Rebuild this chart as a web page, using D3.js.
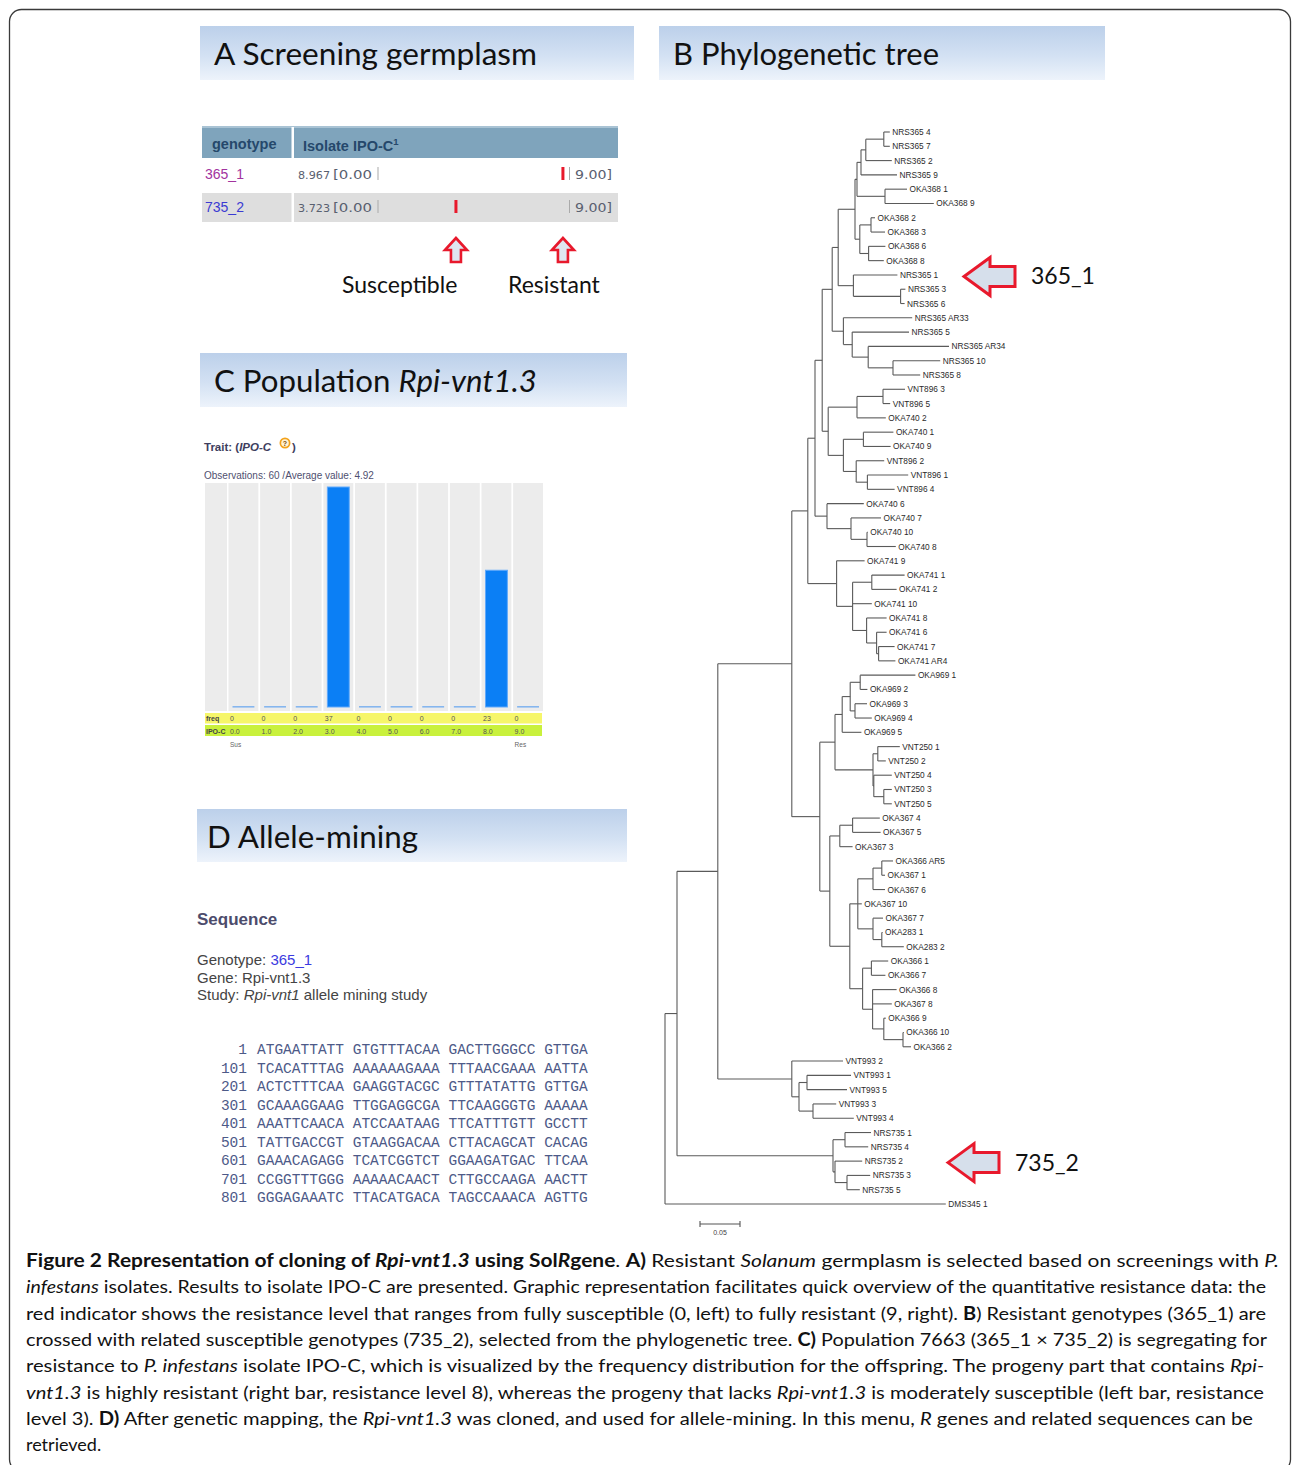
<!DOCTYPE html>
<html>
<head>
<meta charset="utf-8">
<script src="https://cdn.jsdelivr.net/npm/d3@7.9.0/dist/d3.min.js"></script>
<style>
  body { margin: 0; background: #fff; }
  svg { display: block; }
</style>
</head>
<body>
<svg id="fig" width="1292" height="1465"></svg>
<script>
// ---- panel A: screening ----
const genotypes = ['365_1', '735_2'];
const resistance = [8.967, 3.723];

// ---- panel C: population frequency ----
const ipoLevels = ['0.0', '1.0', '2.0', '3.0', '4.0', '5.0', '6.0', '7.0', '8.0', '9.0'];
const freq = [0, 0, 0, 37, 0, 0, 0, 0, 23, 0];
const observations = 60;
const averageValue = 4.92;

// ---- panel D: allele mining ----
const seqStarts = [1, 101, 201, 301, 401, 501, 601, 701, 801];
const seqRows = [
  'ATGAATTATT GTGTTTACAA GACTTGGGCC GTTGA',
  'TCACATTTAG AAAAAAGAAA TTTAACGAAA AATTA',
  'ACTCTTTCAA GAAGGTACGC GTTTATATTG GTTGA',
  'GCAAAGGAAG TTGGAGGCGA TTCAAGGGTG AAAAA',
  'AAATTCAACA ATCCAATAAG TTCATTTGTT GCCTT',
  'TATTGACCGT GTAAGGACAA CTTACAGCAT CACAG',
  'GAAACAGAGG TCATCGGTCT GGAAGATGAC TTCAA',
  'CCGGTTTGGG AAAAACAACT CTTGCCAAGA AACTT',
  'GGGAGAAATC TTACATGACA TAGCCAAACA AGTTG'
];

// ---- panel B: phylogenetic tree (newick, branch lengths) ----
const treeNewick = `(
(((((((((((((NRS365 4:0.0075,NRS365 7:0.0075):0.0225,NRS365 2:0.0325):0.006,NRS365 9:0.045):0.005,
(OKA368 1:0.0275,OKA368 9:0.061):0.035):0.0025,
((OKA368 2:0.005,OKA368 3:0.0175):0.014,(OKA368 6:0.021,OKA368 8:0.019):0.011):0.006):0.021,
(NRS365 1:0.055,(NRS365 3:0.006,NRS365 6:0.005):0.059):0.019):0.0075,
(NRS365 AR33:0.086,(NRS365 5:0.071,(NRS365 AR34:0.101,(NRS365 10:0.059,NRS365 8:0.034):0.031):0.02):0.011):0.014):0.0125,
(((VNT896 3:0.0275,VNT896 5:0.009):0.0325,OKA740 2:0.036):0.036,
((OKA740 1:0.0375,OKA740 9:0.034):0.025,(VNT896 2:0.035,(VNT896 1:0.051,VNT896 4:0.034):0.014):0.016):0.019):0.0075):0.009,
(OKA740 6:0.046,(OKA740 7:0.0375,(OKA740 10:0.001,OKA740 8:0.036):0.02):0.03):0.015):0.009,
(OKA741 9:0.035,((OKA741 1:0.041,OKA741 2:0.031):0.024,OKA741 10:0.024,
(OKA741 8:0.025,(OKA741 6:0.0125,(OKA741 7:0.02,OKA741 AR4:0.021):0.0025):0.0125):0.0175):0.02):0.036):0.02,
(((((OKA969 1:0.069,OKA969 2:0.009):0.0125,(OKA969 3:0.015,OKA969 4:0.021):0.006):0.01,OKA969 5:0.024):0.009,
((VNT250 1:0.0275,VNT250 2:0.01):0.006,(VNT250 4:0.0225,(VNT250 3:0.01,VNT250 5:0.01):0.0125):0.001):0.0475):0.019,
(((OKA367 4:0.034,OKA367 5:0.035):0.016,OKA367 3:0.016):0.0125,
((((OKA366 AR5:0.014,OKA367 1:0.004):0.011,OKA367 6:0.015):0.019,OKA367 10:0.005,
(OKA367 7:0.0125,(OKA283 1:0.001,OKA283 2:0.0275):0.011):0.019):0.01,
((OKA366 1:0.021,OKA366 7:0.0175):0.011,(OKA366 8:0.03,OKA367 8:0.024,
(OKA366 9:0.0025,(OKA366 10:0.001,OKA366 2:0.01):0.024):0.014):0.0125):0.016):0.025):0.0125):0.035):0.0925,
(VNT993 2:0.064,((VNT993 1:0.055,VNT993 5:0.05):0.01,(VNT993 3:0.029,VNT993 4:0.051):0.0175):0.009):0.0925):0.051,
((NRS735 1:0.0325,NRS735 4:0.029):0.015,(NRS735 2:0.034,(NRS735 3:0.029,NRS735 5:0.016):0.015):0.0025):0.195):0.015,
DMS345 1:0.351);`;
const markedLeaves = ['NRS365 1', 'NRS735 2'];
const markedLabels = ['365_1', '735_2'];
const scaleBarValue = 0.05;

// ---- caption (one array per printed line: [text, style]) ----
const captionLines = [
  [['Figure 2 Representation of cloning of ', 'b'], ['Rpi-vnt1.3', 'bi'], [' using Sol', 'b'], ['R', 'bi'], ['gene', 'b'], ['. ', ''], ['A)', 'b'], [' Resistant ', ''], ['Solanum', 'i'], [' germplasm is selected based on screenings with ', ''], ['P.', 'i']],
  [['infestans', 'i'], [' isolates. Results to isolate IPO-C are presented. Graphic representation facilitates quick overview of the quantitative resistance data: the', '']],
  [['red indicator shows the resistance level that ranges from fully susceptible (0, left) to fully resistant (9, right). ', ''], ['B', 'b'], [') Resistant genotypes (365_1) are', '']],
  [['crossed with related susceptible genotypes (735_2), selected from the phylogenetic tree. ', ''], ['C)', 'b'], [' Population 7663 (365_1 \u00d7 735_2) is segregating for', '']],
  [['resistance to ', ''], ['P. infestans', 'i'], [' isolate IPO-C, which is visualized by the frequency distribution for the offspring. The progeny part that contains ', ''], ['Rpi-', 'i']],
  [['vnt1.3', 'i'], [' is highly resistant (right bar, resistance level 8), whereas the progeny that lacks ', ''], ['Rpi-vnt1.3', 'i'], [' is moderately susceptible (left bar, resistance', '']],
  [['level 3). ', ''], ['D)', 'b'], [' After genetic mapping, the ', ''], ['Rpi-vnt1.3', 'i'], [' was cloned, and used for allele-mining. In this menu, ', ''], ['R', 'i'], [' genes and related sequences can be', '']],
  [['retrieved.', '']]
];
const captionWidths = [1253, 1240, 1240, 1241, 1238, 1238, 1227, 0];

const svg = d3.select('#fig');
const calibri = 'Lato, "Open Sans", sans-serif';
const arial = '"Liberation Sans", Arial, sans-serif';
const verdana = '"DejaVu Sans", Verdana, sans-serif';

// outer frame
svg.append('rect')
  .attr('x', 9.5).attr('y', 9.5).attr('width', 1281).attr('height', 1462)
  .attr('rx', 12).attr('fill', 'none').attr('stroke', '#3a3a3a').attr('stroke-width', 1.3);

// header gradient
const defs = svg.append('defs');
const grad = defs.append('linearGradient').attr('id', 'hdr').attr('x1', 0).attr('y1', 0).attr('x2', 0).attr('y2', 1);
grad.append('stop').attr('offset', '0%').attr('stop-color', '#bcd0ea');
grad.append('stop').attr('offset', '55%').attr('stop-color', '#d3e1f3');
grad.append('stop').attr('offset', '100%').attr('stop-color', '#edf3fb');

function header(x, y, w, h, parts, tx, tw) {
  svg.append('rect').attr('x', x).attr('y', y).attr('width', w).attr('height', h).attr('fill', 'url(#hdr)');
  const t = svg.append('text').attr('x', tx).attr('y', y + 39)
    .attr('font-family', calibri).attr('font-size', 31).attr('fill', '#111')
    .attr('textLength', tw).attr('lengthAdjust', 'spacingAndGlyphs');
  parts.forEach(([s, st]) => t.append('tspan').text(s).attr('font-style', st === 'i' ? 'italic' : 'normal'));
}
header(200, 26, 434, 54, [['A Screening germplasm', '']], 214, 323);
header(659, 26, 446, 54, [['B Phylogenetic tree', '']], 673, 266);
header(200, 353, 427, 54, [['C Population ', ''], ['Rpi-vnt1.3', 'i']], 214, 323);
header(197, 809, 430, 53, [['D Allele-mining', '']], 207, 211);

// ================= Panel A =================
const gA = svg.append('g');
gA.append('rect').attr('x', 202).attr('y', 127).attr('width', 416).attr('height', 31).attr('fill', '#7fa4bc');
gA.append('rect').attr('x', 202).attr('y', 126).attr('width', 416).attr('height', 2).attr('fill', '#a9c3d4');
gA.append('rect').attr('x', 291.5).attr('y', 127).attr('width', 2.5).attr('height', 31).attr('fill', '#fff');
gA.append('text').attr('x', 212).attr('y', 149).text('genotype')
  .attr('font-family', arial).attr('font-weight', 'bold').attr('font-size', 14.5).attr('fill', '#25486b');
const isoT = gA.append('text').attr('x', 303).attr('y', 151)
  .attr('font-family', arial).attr('font-weight', 'bold').attr('font-size', 14.5).attr('fill', '#25486b');
isoT.append('tspan').text('Isolate IPO-C');
isoT.append('tspan').text('1').attr('font-size', 9.5).attr('dy', -6);

const xRes = d3.scaleLinear().domain([0, 9]).range([380, 563.6]);
const rowTop = [160, 193];
const rowFill = ['#ffffff', '#dedede'];
const genoColor = ['#a2339e', '#3b3bd2'];
genotypes.forEach((g, i) => {
  const y0 = rowTop[i];
  gA.append('rect').attr('x', 202).attr('y', y0).attr('width', 89.5).attr('height', 29).attr('fill', rowFill[i]);
  gA.append('rect').attr('x', 294).attr('y', y0).attr('width', 324).attr('height', 29).attr('fill', rowFill[i]);
  gA.append('text').attr('x', 205).attr('y', y0 + 19).text(g)
    .attr('font-family', arial).attr('font-size', 14).attr('fill', genoColor[i]);
  gA.append('text').attr('x', 298).attr('y', y0 + 18.5).text(resistance[i].toFixed(3))
    .attr('font-family', verdana).attr('font-size', 10.5).attr('fill', '#596070')
    .attr('textLength', 32).attr('lengthAdjust', 'spacingAndGlyphs');
  gA.append('text').attr('x', 333).attr('y', y0 + 18.5).text('[0.00')
    .attr('font-family', verdana).attr('font-size', 12.5).attr('fill', '#596070')
    .attr('textLength', 39).attr('lengthAdjust', 'spacingAndGlyphs');
  gA.append('rect').attr('x', 377.5).attr('y', y0 + 7).attr('width', 1).attr('height', 13).attr('fill', '#aaa');
  gA.append('rect').attr('x', 569).attr('y', y0 + 7).attr('width', 1).attr('height', 13).attr('fill', '#aaa');
  gA.append('text').attr('x', 575).attr('y', y0 + 18.5).text('9.00]')
    .attr('font-family', verdana).attr('font-size', 12.5).attr('fill', '#596070')
    .attr('textLength', 37).attr('lengthAdjust', 'spacingAndGlyphs');
  gA.append('rect').attr('x', xRes(resistance[i]) - 1.5).attr('y', y0 + 7).attr('width', 3).attr('height', 13)
    .attr('fill', '#e8192c');
});

// up arrows + labels
const upArrow = (cx, top) => `M${cx},${top} L${cx + 11},${top + 12} L${cx + 5},${top + 12} L${cx + 5},${top + 24} L${cx - 5},${top + 24} L${cx - 5},${top + 12} L${cx - 11},${top + 12} Z`;
const arrowLabels = ['Resistant', 'Susceptible'];
const arrowLabelX = [508, 342];
resistance.forEach((v, i) => {
  gA.append('path').attr('d', upArrow(xRes(v), 238))
    .attr('fill', '#dfe6f0').attr('stroke', '#e8192c').attr('stroke-width', 2.6).attr('stroke-linejoin', 'miter');
  gA.append('text').attr('x', arrowLabelX[i]).attr('y', 293).text(arrowLabels[i])
    .attr('font-family', calibri).attr('font-size', 23).attr('fill', '#111');
});

// ================= Panel C =================
const gC = svg.append('g');
const trait = gC.append('text').attr('x', 204).attr('y', 451)
  .attr('font-family', arial).attr('font-weight', 'bold').attr('font-size', 11.5).attr('fill', '#3e3e5e');
trait.append('tspan').text('Trait: (');
trait.append('tspan').text('IPO-C').attr('font-style', 'italic');
gC.append('circle').attr('cx', 285).attr('cy', 443).attr('r', 5.5).attr('fill', '#f3a21b');
gC.append('circle').attr('cx', 285).attr('cy', 443).attr('r', 3.8).attr('fill', '#fff3d6');
gC.append('text').attr('x', 285).attr('y', 446).attr('text-anchor', 'middle').text('?')
  .attr('font-family', arial).attr('font-weight', 'bold').attr('font-size', 7).attr('fill', '#7a4a00');
gC.append('text').attr('x', 292).attr('y', 451).text(')')
  .attr('font-family', arial).attr('font-weight', 'bold').attr('font-size', 11.5).attr('fill', '#3e3e5e');
gC.append('text').attr('x', 204).attr('y', 479)
  .text(`Observations: ${observations} /Average value: ${averageValue}`)
  .attr('font-family', arial).attr('font-size', 10).attr('fill', '#4f4f6f');

const xBin = d3.scaleBand().domain(ipoLevels).range([228.5, 543]).paddingInner(0.055);
const yFreq = d3.scaleLinear().domain([0, 37]).range([707, 487]);
gC.append('rect').attr('x', 205).attr('y', 483).attr('width', 22).attr('height', 228).attr('fill', '#ececec');
gC.selectAll('rect.col').data(ipoLevels).join('rect').attr('class', 'col')
  .attr('x', d => xBin(d)).attr('y', 483).attr('width', xBin.bandwidth()).attr('height', 228)
  .attr('fill', '#ececec');
gC.selectAll('rect.bar').data(freq).join('rect').attr('class', 'bar')
  .attr('x', (d, i) => xBin(ipoLevels[i]) + 4)
  .attr('width', xBin.bandwidth() - 8)
  .attr('y', d => d > 0 ? yFreq(d) : yFreq(0) - 1)
  .attr('height', d => d > 0 ? yFreq(0) - yFreq(d) : 1.6)
  .attr('fill', d => d > 0 ? '#0b7ff5' : '#86b6ee')
  .attr('stroke', d => d > 0 ? '#61a9fb' : 'none').attr('stroke-width', 1);
// freq / IPO-C rows
gC.append('rect').attr('x', 205).attr('y', 713).attr('width', 337).attr('height', 10.5).attr('fill', '#f6f66a');
gC.append('rect').attr('x', 205).attr('y', 725).attr('width', 337).attr('height', 11).attr('fill', '#c9f13c');
gC.append('text').attr('x', 206).attr('y', 721).text('freq')
  .attr('font-family', arial).attr('font-weight', 'bold').attr('font-size', 7).attr('fill', '#444');
gC.append('text').attr('x', 206).attr('y', 733.5).text('IPO-C')
  .attr('font-family', arial).attr('font-weight', 'bold').attr('font-size', 7).attr('fill', '#444');
gC.selectAll('text.fq').data(freq).join('text').attr('class', 'fq')
  .attr('x', (d, i) => xBin(ipoLevels[i]) + 1.5).attr('y', 721).text(d => d)
  .attr('font-family', arial).attr('font-size', 7).attr('fill', '#555');
gC.selectAll('text.lv').data(ipoLevels).join('text').attr('class', 'lv')
  .attr('x', d => xBin(d) + 1.5).attr('y', 733.5).text(d => d)
  .attr('font-family', arial).attr('font-size', 7).attr('fill', '#555');
gC.append('text').attr('x', xBin(ipoLevels[0]) + 1.5).attr('y', 746.5).text('Sus')
  .attr('font-family', arial).attr('font-size', 6.5).attr('fill', '#666');
gC.append('text').attr('x', xBin(ipoLevels[9]) + 1.5).attr('y', 746.5).text('Res')
  .attr('font-family', arial).attr('font-size', 6.5).attr('fill', '#666');

// ================= Panel D =================
const gD = svg.append('g').attr('font-family', arial);
gD.append('text').attr('x', 197).attr('y', 925).text('Sequence')
  .attr('font-weight', 'bold').attr('font-size', 17).attr('fill', '#4c4c6c');
const infoLines = [
  [['Genotype: ', '#444'], ['365_1', '#3b3be0']],
  [['Gene: Rpi-vnt1.3', '#444']],
  [['Study: ', '#444'], ['Rpi-vnt1', '#444', 'i'], [' allele mining study', '#444']]
];
infoLines.forEach((parts, i) => {
  const t = gD.append('text').attr('x', 197).attr('y', 965 + i * 17.5).attr('font-size', 15);
  parts.forEach(([s, c, st]) => t.append('tspan').text(s).attr('fill', c).attr('font-style', st === 'i' ? 'italic' : 'normal'));
});
const ySeq = d3.scaleLinear().domain([0, seqRows.length - 1]).range([1054, 1202]);
gD.selectAll('text.sn').data(seqStarts).join('text').attr('class', 'sn')
  .attr('x', 247).attr('y', (d, i) => ySeq(i)).attr('text-anchor', 'end').text(d => d)
  .attr('font-family', '"Liberation Mono", monospace').attr('font-size', 14.5).attr('fill', '#4d5a88');
gD.selectAll('text.sq').data(seqRows).join('text').attr('class', 'sq')
  .attr('x', 257).attr('y', (d, i) => ySeq(i)).text(d => d)
  .attr('xml:space', 'preserve')
  .attr('font-family', '"Liberation Mono", monospace').attr('font-size', 14.5).attr('fill', '#4d5a88');

// ================= Panel B: tree =================
function parseNewick(s) {
  s = s.replace(/\s*\n\s*/g, '');
  let i = 0;
  function node() {
    const n = {};
    if (s[i] === '(') {
      n.children = [];
      i++;
      n.children.push(node());
      while (s[i] === ',') { i++; n.children.push(node()); }
      i++;
    }
    let name = '';
    while (i < s.length && !',():;'.includes(s[i])) name += s[i++];
    n.name = name.trim();
    if (s[i] === ':') {
      i++;
      let len = '';
      while (i < s.length && !',();'.includes(s[i])) len += s[i++];
      n.length = +len;
    }
    return n;
  }
  return node();
}

const root = d3.hierarchy(parseNewick(treeNewick));
root.eachBefore(d => { d.dist = d.parent ? d.parent.dist + (d.data.length || 0) : 0; });
const leaves = root.leaves();
const yLeaf = d3.scaleLinear().domain([0, leaves.length - 1]).range([132, 1204]);
leaves.forEach((d, i) => { d.yy = yLeaf(i); });
root.eachAfter(d => {
  if (d.children) d.yy = (d.children[0].yy + d.children[d.children.length - 1].yy) / 2;
});
const xTree = d3.scaleLinear().domain([0, 0.35]).range([665, 945]);

const gB = svg.append('g');
gB.selectAll('path.h').data(root.descendants().filter(d => d.parent)).join('path').attr('class', 'h')
  .attr('d', d => `M${xTree(d.parent.dist)},${d.yy}H${xTree(d.dist)}`)
  .attr('stroke', '#5a5a5a').attr('stroke-width', 1.1).attr('fill', 'none');
gB.selectAll('path.v').data(root.descendants().filter(d => d.children)).join('path').attr('class', 'v')
  .attr('d', d => `M${xTree(d.dist)},${d.children[0].yy}V${d.children[d.children.length - 1].yy}`)
  .attr('stroke', '#5a5a5a').attr('stroke-width', 1.1).attr('fill', 'none');
gB.selectAll('text.leaf').data(leaves).join('text').attr('class', 'leaf')
  .attr('x', d => xTree(d.dist) + 2.5).attr('y', d => d.yy + 3)
  .text(d => d.data.name)
  .attr('font-family', arial).attr('font-size', 8.3).attr('fill', '#2a2a2a');

// scale bar
const sbX0 = 700;
const sbLen = xTree(scaleBarValue) - xTree(0);
gB.append('path')
  .attr('d', `M${sbX0},1221V1227M${sbX0},1224H${sbX0 + sbLen}M${sbX0 + sbLen},1221V1227`)
  .attr('stroke', '#555').attr('stroke-width', 1.1).attr('fill', 'none');
gB.append('text').attr('x', sbX0 + sbLen / 2).attr('y', 1235).attr('text-anchor', 'middle')
  .text(scaleBarValue.toFixed(2)).attr('font-family', arial).attr('font-size', 7).attr('fill', '#444');

// pointer arrows for selected genotypes
const leftArrow = (tip, cy) => `M${tip},${cy} L${tip + 26},${cy - 19} L${tip + 26},${cy - 10} L${tip + 51},${cy - 10} L${tip + 51},${cy + 10} L${tip + 26},${cy + 10} L${tip + 26},${cy + 19} Z`;
const arrowTipX = [964, 948];
markedLeaves.forEach((name, i) => {
  const leaf = leaves.find(d => d.data.name === name);
  gB.append('path').attr('d', leftArrow(arrowTipX[i], leaf.yy + 1.5))
    .attr('fill', '#d6dfeb').attr('stroke', '#e8192c').attr('stroke-width', 3).attr('stroke-linejoin', 'miter');
  gB.append('text').attr('x', arrowTipX[i] + 67).attr('y', leaf.yy + 9.5).text(markedLabels[i])
    .attr('font-family', calibri).attr('font-size', 23).attr('fill', '#111');
});

// ================= caption =================
const gCap = svg.append('g').attr('font-family', calibri).attr('font-size', 18).attr('fill', '#111');
captionLines.forEach((parts, i) => {
  const t = gCap.append('text').attr('x', 26).attr('y', 1267 + i * 26.3);
  if (captionWidths[i]) t.attr('textLength', captionWidths[i]).attr('lengthAdjust', 'spacingAndGlyphs');
  parts.forEach(([s, st]) => t.append('tspan').text(s)
    .attr('font-weight', st.includes('b') ? 'bold' : 'normal')
    .attr('font-style', st.includes('i') ? 'italic' : 'normal'));
});
</script>
</body>
</html>
